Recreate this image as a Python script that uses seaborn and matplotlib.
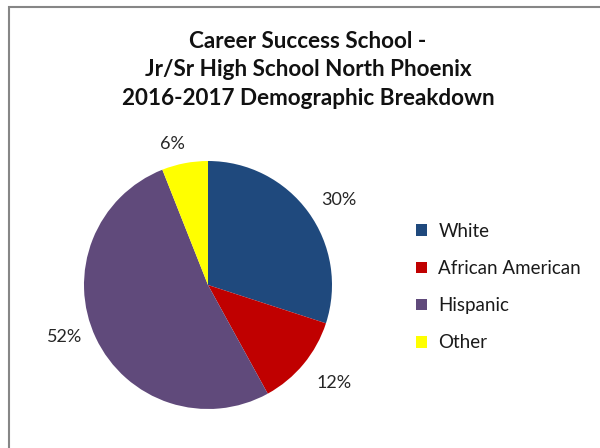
import matplotlib
matplotlib.use("Agg")
import matplotlib.pyplot as plt
from matplotlib.patches import Rectangle, Patch
import seaborn as sns
import numpy as np

categories = ["White", "African American", "Hispanic", "Other"]
values = [30, 12, 52, 6]
colors = ["#1F497D", "#C00000", "#604A7B", "#FFFF00"]
title_lines = ["Career Success School -", "Jr/Sr High School North Phoenix",
               "2016-2017 Demographic Breakdown"]

sns.set_theme(style="white")
plt.rcParams['font.family'] = ['Lato', 'DejaVu Sans']

W, H = 600, 448
fig = plt.figure(figsize=(6, 4.48), dpi=100)

# border
fig.patches.append(Rectangle((9 / W, -0.1), 1.2, 1 - 7 / H + 0.1, transform=fig.transFigure,
                             fill=False, edgecolor="#868686", linewidth=1.5))

cx, cy, r = 208, 448 - 285, 124
ax = fig.add_axes([(cx - r) / W, (cy - r) / H, 2 * r / W, 2 * r / H])
wedges, texts, autotexts = ax.pie(values, colors=colors, startangle=90, counterclock=False,
                                  autopct=lambda p: f"{p:.0f}%", pctdistance=1.26,
                                  wedgeprops=dict(linewidth=0),
                                  textprops=dict(fontsize=13, color="#262626"))
ax.set_xlim(-1, 1)
ax.set_ylim(-1, 1)
ax.set_aspect("equal")
ax.axis("off")
for t in autotexts:
    t.set_clip_on(False)
# Excel "best fit" label placement (angle in degrees, distance in radii)
label_place = [(33, 1.26), (-38, 1.29), (-160, 1.23), (104, 1.17)]
for t, (deg, dist) in zip(autotexts, label_place):
    a = np.deg2rad(deg)
    t.set_position((dist * np.cos(a), dist * np.sin(a)))

fig.text(308 / W, 1 - 70 / H, "\n".join(title_lines), ha="center", va="center",
         fontsize=16.2, fontweight="bold", color="#111111", linespacing=1.43)

handles = [Patch(facecolor=c, edgecolor="none") for c in colors]
leg = fig.legend(handles, categories, loc="upper left", bbox_to_anchor=(416 / W, 1 - 223 / H),
                 frameon=False, fontsize=13.5, handlelength=0.6, handleheight=0.6,
                 labelspacing=1.07, handletextpad=0.6, borderpad=0, borderaxespad=0)
for t in leg.get_texts():
    t.set_color("#1a1a1a")

fig.savefig("out.png", dpi=100)
